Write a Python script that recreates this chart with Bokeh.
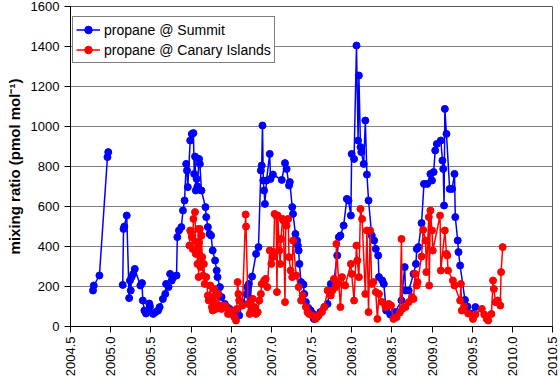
import numpy as np
from bokeh.plotting import figure
from bokeh.models import Range1d, FixedTicker
from bokeh.embed import file_html
from bokeh.resources import INLINE

nan = float("nan")

# propane @ Summit (decimal year, pmol/mol); nan breaks the line
summit_t = [2004.78, 2004.79, 2004.86, 2004.96, 2004.97, nan, 2005.15, 2005.16, 2005.17, 2005.20,
            2005.23, 2005.24, 2005.25, 2005.26, 2005.28, 2005.30, 2005.37, 2005.39, 2005.40, 2005.42,
            2005.44, 2005.46, 2005.48, 2005.49, 2005.53, 2005.56, 2005.59, 2005.61, 2005.65, 2005.68,
            2005.69, 2005.72, 2005.74, 2005.76, 2005.78, 2005.82, 2005.83, 2005.85, 2005.88, 2005.90,
            2005.92, 2005.94, 2005.95, 2005.96, 2005.99, 2006.01, 2006.03, 2006.04, 2006.05, 2006.06,
            2006.07, 2006.08, 2006.10, 2006.11, 2006.13, 2006.18, 2006.19, 2006.21, 2006.23, 2006.25,
            2006.27, 2006.30, 2006.32, 2006.33, 2006.36, 2006.38, 2006.42, 2006.45, 2006.48, 2006.52,
            2006.60, 2006.64, 2006.69, 2006.70, 2006.72, 2006.74, 2006.76, 2006.81, 2006.84, 2006.87,
            2006.88, 2006.89, 2006.90, 2006.91, 2006.92, 2006.94, 2006.98, 2006.99, 2007.02, 2007.13,
            2007.17, 2007.19, 2007.22, 2007.23, 2007.26, 2007.27, 2007.30, 2007.32, 2007.33, 2007.34,
            2007.35, 2007.37, 2007.40, 2007.41, 2007.43, 2007.46, 2007.49, 2007.52, 2007.53, 2007.57,
            2007.61, 2007.66, 2007.70, 2007.74, 2007.78, 2007.82, 2007.84, 2007.86, 2007.90, 2007.94,
            2007.96, 2007.99, 2008.00, 2008.03, 2008.06, 2008.08, 2008.09, 2008.11, 2008.12, 2008.15,
            2008.17, 2008.19, 2008.21, 2008.25, 2008.28, 2008.30, 2008.33, 2008.34, 2008.38, 2008.40,
            2008.43, 2008.48, 2008.54, 2008.62, 2008.66, 2008.67, 2008.71, 2008.77, 2008.80, 2008.81,
            2008.83, 2008.87, 2008.90, 2008.94, 2008.98, 2009.00, 2009.02, 2009.04, 2009.06, 2009.11,
            2009.13, 2009.14, 2009.15, 2009.16, 2009.18, 2009.22, 2009.25, 2009.28, 2009.29, 2009.32,
            2009.33, 2009.35, 2009.41, 2009.44, 2009.46, 2009.49, 2009.54]
summit_v = [180, 205, 255, 847, 872, nan, 208, 488, 500, 555,
            142, 230, 180, 247, 263, 288, 205, 217, 130, 80,
            65, 72, 115, 100, 63, 72, 80, 97, 138, 163,
            213, 197, 263, 230, 247, 255, 447, 480, 497, 580,
            630, 813, 780, 697, 930, 963, 967, 763, 850, 680,
            738, 700, 838, 813, 680, 597, 547, 497, 463, 455,
            380, 330, 280, 247, 197, 147, 113, 97, 88, 77,
            55, 117, 163, 197, 213, 138, 250, 363, 397, 780,
            805, 1005, 730, 680, 613, 730, 863, 738, 760, 733,
            817, 788, 705, 722, 597, 563, 463, 430, 405, 380,
            313, 222, 210, 163, 122, 93, 80, 63, 38, 47,
            72, 97, 113, 213, 230, 355, 447, 455, 505, 638,
            630, 555, 863, 838, 1405, 930, 1255, 897, 872, 813,
            1030, 760, 630, 455, 430, 388, 355, 247, 230, 213,
            80, 60, 72, 130, 297, 180, 180, 263, 313, 388,
            397, 517, 713, 713, 763, 730, 772, 880, 913, 930,
            830, 788, 605, 1088, 963, 688, 688, 763, 547, 430,
            372, 305, 133, 100, 67, 63, 97]

# propane @ Canary Islands
canary_t = [2005.98, 2005.99, 2006.00, 2006.01, 2006.02, 2006.03, 2006.05, 2006.06, 2006.07, 2006.08,
            2006.09, 2006.095, 2006.10, 2006.11, 2006.12, 2006.13, 2006.14, 2006.15, 2006.16, 2006.17,
            2006.19, 2006.21, 2006.22, 2006.23, 2006.24, 2006.26, 2006.27, 2006.28, 2006.29, 2006.30,
            2006.31, 2006.34, 2006.35, 2006.36, 2006.38, 2006.40, 2006.42, 2006.44, 2006.46, 2006.48,
            2006.50, 2006.54, 2006.56, 2006.57, 2006.58, 2006.59, 2006.60, 2006.64, 2006.68, 2006.685,
            2006.71, 2006.73, 2006.75, 2006.77, 2006.79, 2006.81, 2006.83, 2006.85, 2006.87, 2006.88,
            2006.91, 2006.93, 2006.95, 2006.98, 2007.00, 2007.02, 2007.03, 2007.04, 2007.06, 2007.07,
            2007.08, 2007.10, 2007.11, 2007.12, 2007.14, 2007.15, 2007.17, 2007.18, 2007.19, 2007.21,
            2007.22, 2007.24, 2007.26, 2007.27, 2007.31, 2007.34, 2007.37, 2007.39, 2007.43, 2007.45,
            2007.47, 2007.51, 2007.55, 2007.59, 2007.63, 2007.66, 2007.70, 2007.74, 2007.76, 2007.78,
            2007.80, 2007.81, 2007.84, 2007.86, 2007.88, 2007.92, 2007.99, 2008.00, 2008.03, 2008.06,
            2008.07, 2008.09, 2008.11, 2008.13, 2008.17, 2008.19, 2008.21, 2008.23, 2008.25, 2008.27,
            2008.30, 2008.32, 2008.34, 2008.38, 2008.42, 2008.46, 2008.49, 2008.52, 2008.56, 2008.60,
            2008.62, 2008.63, 2008.67, 2008.71, 2008.75, 2008.77, 2008.79, 2008.81, 2008.82, 2008.87,
            2008.89, 2008.92, 2008.93, 2008.96, 2008.965, 2008.98, 2009.00, 2009.01, 2009.10, 2009.11,
            2009.16, 2009.18, 2009.19, 2009.20, 2009.26, 2009.28, 2009.35, 2009.36, 2009.37, 2009.40,
            2009.45, 2009.51, 2009.54, 2009.62, 2009.65, 2009.68, 2009.70, 2009.74, 2009.76, 2009.77,
            2009.79, 2009.82, 2009.85, 2009.86, 2009.88]
canary_v = [405, 480, 472, 447, 388, 538, 572, 363, 422, 313,
            488, 247, 420, 488, 297, 455, 347, 255, 313, 213,
            247, 155, 130, 138, 205, 97, 80, 122, 188, 155,
            88, 163, 105, 105, 88, 97, 105, 97, 63, 80,
            63, 47, 30, 88, 222, 163, 130, 105, 560, 500,
            113, 63, 80, 138, 97, 63, 72, 130, 163, 213,
            230, 238, 197, 380, 313, 347, 372, 563, 555, 172,
            555, 380, 313, 438, 538, 530, 122, 530, 505, 538,
            347, 280, 247, 430, 255, 197, 130, 155, 97, 72,
            63, 55, 38, 55, 72, 97, 180, 155, 180, 238,
            197, 413, 213, 97, 247, 205, 313, 263, 130, 405,
            330, 247, 588, 538, 163, 480, 72, 480, 213, 222,
            172, 38, 163, 122, 97, 113, 105, 38, 47, 70,
            438, 88, 97, 122, 147, 138, 263, 205, 222, 350,
            483, 430, 272, 547, 205, 580, 480, 380, 555, 280,
            480, 363, 355, 280, 230, 205, 130, 213, 80, 100,
            65, 38, 60, 88, 60, 38, 30, 63, 230, 188,
            122, 130, 105, 272, 397]

x_ticks = [2004.5, 2005.0, 2005.5, 2006.0, 2006.5, 2007.0, 2007.5, 2008.0, 2008.5, 2009.0, 2009.5, 2010.0, 2010.5]
x_tick_labels = ["2004.5", "2005.0", "2005.5", "2006.0", "2006.5", "2007.0", "2007.5",
                 "2008.0", "2008.5", "2009.0", "2009.5", "2010.0", "2010.5"]
y_ticks = [0, 200, 400, 600, 800, 1000, 1200, 1400, 1600]

FONT = "Liberation Sans"

p = figure(width=560, height=380, output_backend="svg", toolbar_location=None,
           x_range=Range1d(2004.5, 2010.5), y_range=Range1d(0, 1600),
           min_border_left=70, min_border_right=8, min_border_top=6, min_border_bottom=54)
p.background_fill_color = "white"
p.border_fill_color = "white"
p.outline_line_color = "#555555"
p.outline_line_width = 1

p.xgrid.visible = False
p.ygrid.grid_line_color = "#808080"
p.ygrid.grid_line_width = 1
p.ygrid.ticker = FixedTicker(ticks=y_ticks)

p.xaxis.ticker = FixedTicker(ticks=x_ticks)
p.xaxis.major_label_overrides = {t: s for t, s in zip(x_ticks, x_tick_labels)}
p.xaxis.major_label_orientation = np.pi / 2
p.yaxis.ticker = FixedTicker(ticks=y_ticks)
for ax in (p.xaxis, p.yaxis):
    ax.axis_line_color = "black"
    ax.major_tick_line_color = "black"
    ax.major_tick_in = 0
    ax.major_tick_out = 6
    ax.minor_tick_line_color = None
    ax.major_label_text_font = FONT
    ax.major_label_text_font_size = "13px"
    ax.major_label_text_color = "black"
p.xaxis.major_label_standoff = 4
p.yaxis.major_label_standoff = 5

p.yaxis.axis_label = "mixing ratio (pmol mol⁻¹)"
p.yaxis.axis_label_text_font = FONT
p.yaxis.axis_label_text_font_size = "15px"
p.yaxis.axis_label_text_font_style = "bold"
p.yaxis.axis_label_text_color = "black"
p.yaxis.axis_label_standoff = 5

BLUE = "#0000FF"
RED = "#FF0000"
p.line(summit_t, summit_v, line_color=BLUE, line_width=1.5, legend_label="propane @ Summit")
p.scatter(summit_t, summit_v, marker="circle", size=7, fill_color=BLUE, line_color=BLUE,
          legend_label="propane @ Summit")
p.line(canary_t, canary_v, line_color=RED, line_width=1.5, legend_label="propane @ Canary Islands")
p.scatter(canary_t, canary_v, marker="circle", size=7, fill_color=RED, line_color=RED,
          legend_label="propane @ Canary Islands")

lg = p.legend[0]
lg.location = (2, 263)
lg.margin = 0
lg.padding = 3
lg.spacing = 1
lg.glyph_width = 24
lg.glyph_height = 19
lg.label_height = 19
lg.label_standoff = 4
lg.label_text_font = FONT
lg.label_text_font_size = "14px"
lg.label_text_color = "black"
lg.border_line_color = "black"
lg.border_line_width = 1
lg.background_fill_color = "white"
lg.background_fill_alpha = 1.0

open("out.html", "w").write(file_html(p, INLINE))
